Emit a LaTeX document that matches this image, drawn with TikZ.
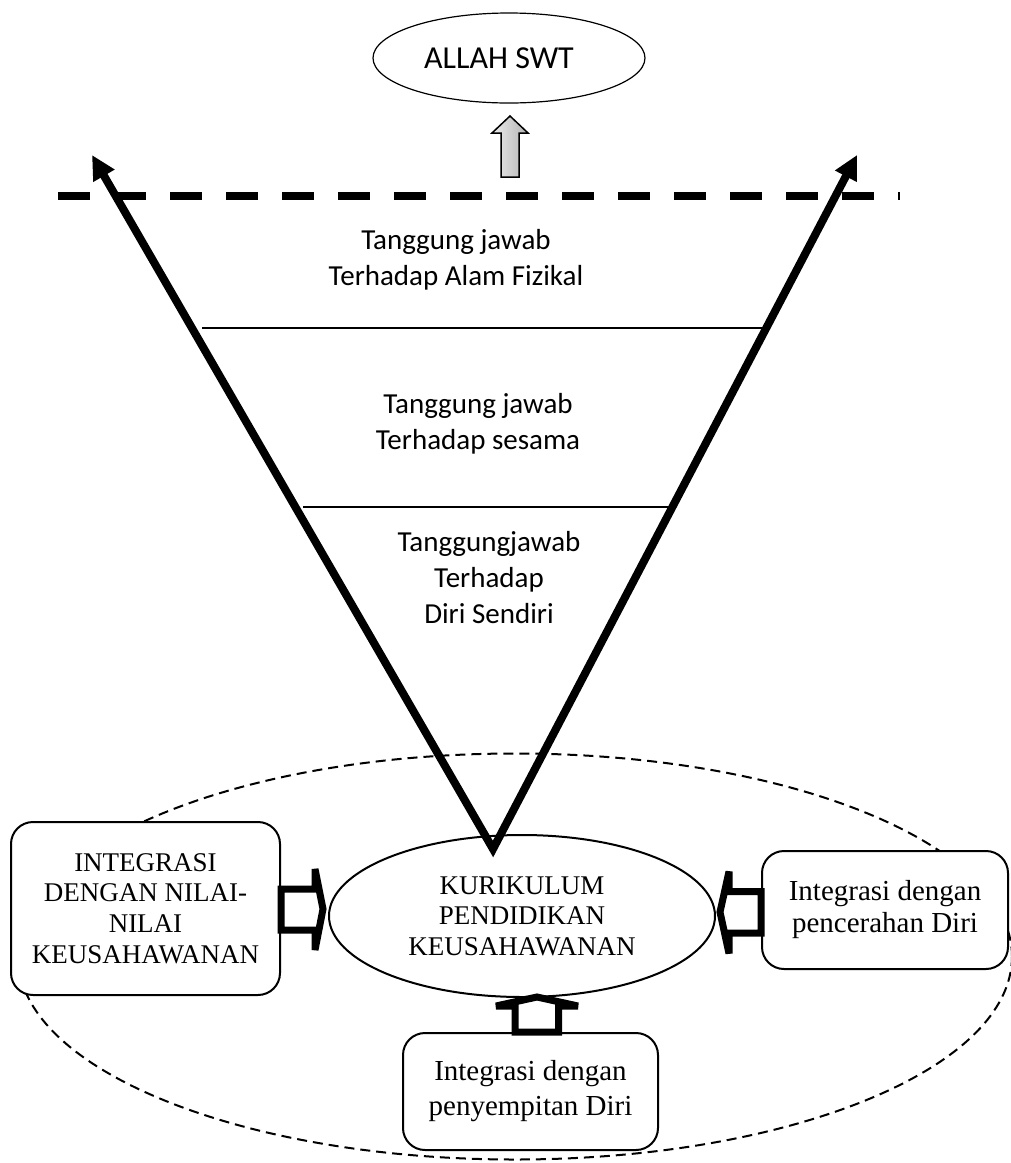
\documentclass[tikz,border=0pt]{standalone}
\usepackage{fontspec}
\setmainfont{Liberation Serif}
\newfontfamily\calibri{Carlito}
\usetikzlibrary{shapes.geometric,arrows.meta}

\begin{document}
\begin{tikzpicture}[x=1pt, y=-1pt,
  vline/.style={line width=8pt, line join=miter},
  tj/.style={align=center, font=\calibri\fontsize{29}{36}\selectfont},
  box/.style={draw, line width=2pt, rounded corners=22pt, fill=white, inner sep=0pt, align=center},
  blockarr/.style={draw, line width=7pt, fill=white, line join=miter, miter limit=2}]
\useasboundingbox (0,0) rectangle (1011,1163);
\def\tipw{Triangle[length=24pt, width=23pt]}
%outer dashed ellipse
\draw[line width=2pt, dash pattern=on 10pt off 6pt] (515,956.5) ellipse [x radius=497pt, y radius=203pt];
%centre
\node[draw, ellipse, line width=2pt, fill=white, minimum width=386pt, minimum height=162pt, inner sep=0pt, align=center, font=\fontsize{27}{30.5}\selectfont] (kurikulum) at (522,916) {KURIKULUM\\PENDIDIKAN\\KEUSAHAWANAN};
%boxes
\node[box, minimum width=269pt, minimum height=173pt, font=\fontsize{27}{30.7}\selectfont] (nilai) at (145.5,908.5) {INTEGRASI\\DENGAN NILAI-\\NILAI\\KEUSAHAWANAN};
\node[box, minimum width=246pt, minimum height=118pt, font=\fontsize{29}{32}\selectfont] (cerah) at (885,910) {Integrasi dengan\\pencerahan Diri};
\node[box, minimum width=255pt, minimum height=117pt, font=\fontsize{29}{35}\selectfont] (sempit) at (530.5,1091.5) {Integrasi dengan\\penyempitan Diri};
%block arrows
\draw[blockarr] (nilai.east) ++(0,-19.5) -- ++(34,0) -- ++(0,-20) -- ++(8,40) -- ++(-8,41) -- ++(0,-20) -- ++(-34,0) -- cycle;
\draw[blockarr] (cerah.west) ++(0,-18.5) -- ++(-32,0) -- ++(0,-20) -- ++(-9,40.5) -- ++(9,41.5) -- ++(0,-20.5) -- ++(32,0) -- cycle;
\draw[blockarr] (sempit.north) ++(-15.5,0) -- ++(0,-26) -- ++(-19,0) -- ++(41,-9) -- ++(41,9) -- ++(-19.5,0) -- ++(0,26) -- cycle;
%V arrows
\coordinate (apex) at (493,849);
\coordinate (tipL) at (92,155);
\coordinate (tipR) at (857,155);
\draw[vline, {\tipw}-{\tipw}] (tipL) -- (apex) -- (tipR);
%levels
\foreach \y/\a/\b in {328/202/763, 507/303/672} \draw[line width=1.5pt] (\a,\y) -- (\b,\y);
\node[tj] (fizikal) at (456,260) {Tanggung jawab\\Terhadap Alam Fizikal};
\node[tj] (sesama) at (478,423.5) {Tanggung jawab\\Terhadap sesama};
\node[tj] (diri) at (489,577.5) {Tanggungjawab\\Terhadap\\Diri Sendiri};
%top
\draw[line width=8.5pt, dash pattern=on 32pt off 24pt] (58,196) -- (900,196);
\node[draw, ellipse, line width=1.2pt, minimum width=272pt, minimum height=90pt, inner sep=0pt, font=\calibri\fontsize{32}{36}\selectfont] (allah) at (509,58) {ALLAH SWT\hspace*{20pt}};
\draw[line width=1.5pt, left color=gray!15, right color=gray!60, line join=miter] (501,177) -- (501,133) -- (492,133) -- (510,116) -- (528,133) -- (519,133) -- (519,177) -- cycle;
\end{tikzpicture}
\end{document}
